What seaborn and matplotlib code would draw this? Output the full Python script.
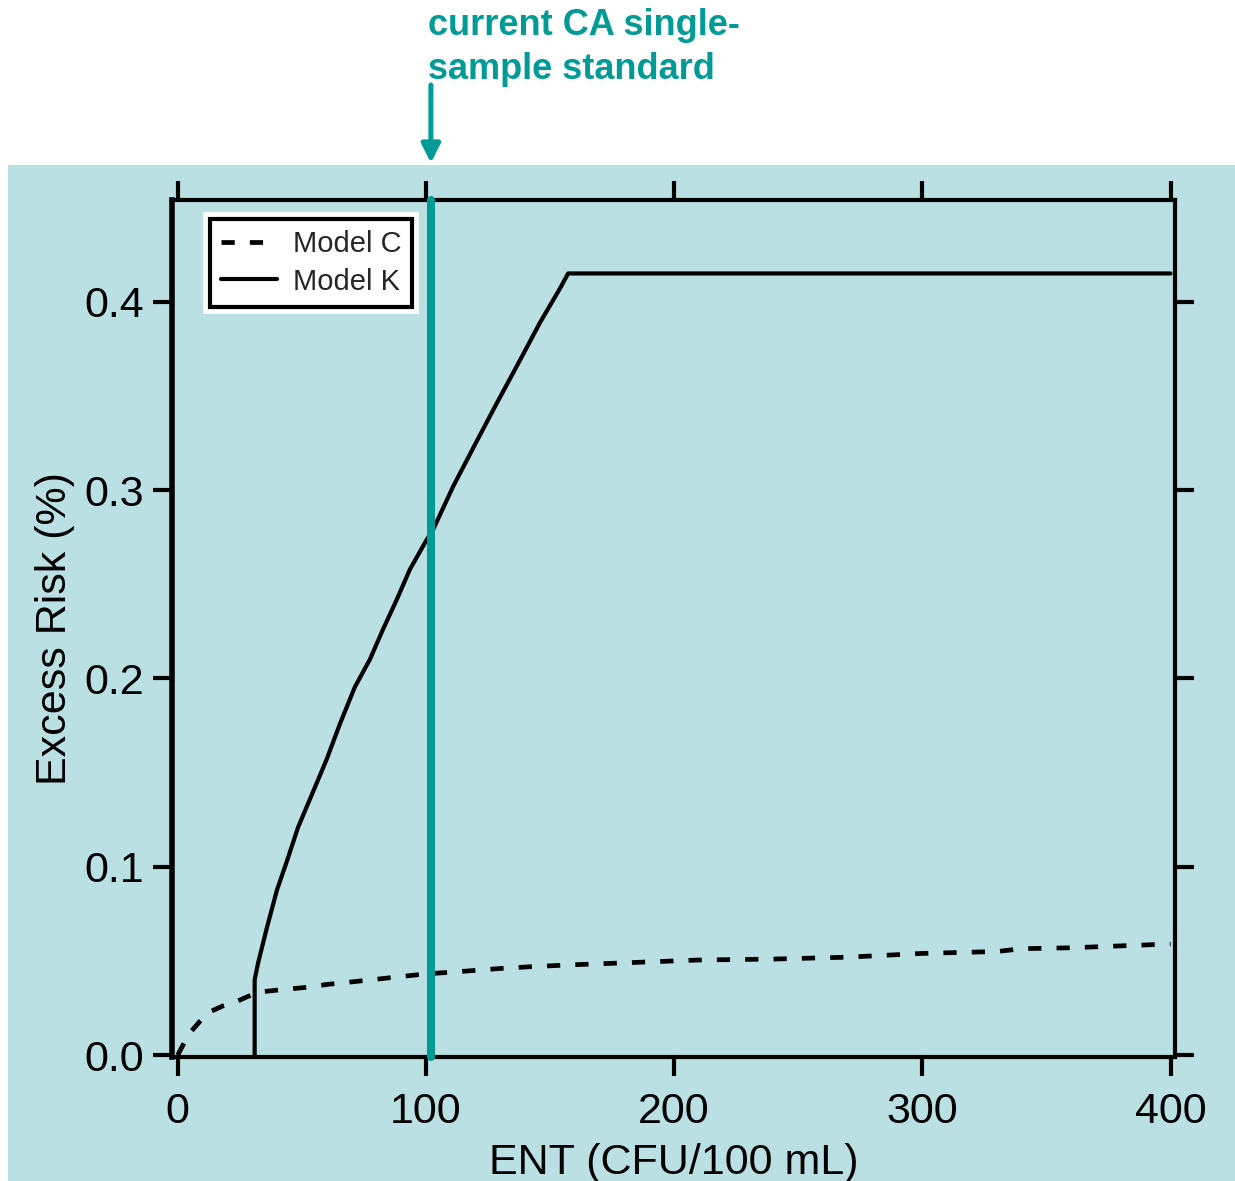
import numpy as np
import pandas as pd
import matplotlib
matplotlib.use('Agg')
import matplotlib.pyplot as plt
import matplotlib.patheffects as pe
from matplotlib.patches import Rectangle
import seaborn as sns

# ── Data ──────────────────────────────────────────────────
model_c_x = [0, 2, 5, 9, 13, 18, 23, 28, 33, 40, 52, 60, 71, 85, 99, 115,
             130, 143, 160, 180, 210, 240, 270, 300, 330, 340, 360, 380, 400]
model_c_y = [0.0, 0.005, 0.012, 0.018, 0.023, 0.026, 0.028, 0.031, 0.0335,
             0.0345, 0.036, 0.0375, 0.039, 0.041, 0.043, 0.0445, 0.046,
             0.047, 0.048, 0.049, 0.0505, 0.051, 0.052, 0.054, 0.055,
             0.0565, 0.057, 0.058, 0.059]

model_k_x = [31, 31, 32.4, 36, 40, 44, 48.5, 53.3, 56.5, 60, 65.4, 71.4,
             77.4, 82.7, 88.3, 93.6, 100.3, 102.9, 111, 120.5, 128.5, 136.7,
             146, 154, 157.3, 400]
model_k_y = [0.0, 0.04, 0.049, 0.068, 0.0877, 0.103, 0.121, 0.136, 0.146,
             0.157, 0.176, 0.1955, 0.21, 0.226, 0.242, 0.258, 0.2736, 0.279,
             0.302, 0.326, 0.346, 0.366, 0.389, 0.407, 0.415, 0.415]

standard_x = 102
x_ticks = [0, 100, 200, 300, 400]
y_ticks = [0.0, 0.1, 0.2, 0.3, 0.4]

panel_color = '#BBE0E3'
teal = '#009B96'

# ── Style ────────────────────────────────────────────────
sns.set_theme(style='ticks')
plt.rcParams['font.family'] = ['Liberation Sans', 'DejaVu Sans']

fig = plt.figure(figsize=(12.35, 11.81), dpi=100)
fig.patch.set_facecolor('white')
fig.patches.append(Rectangle((8 / 1235, 0), 1, (1181 - 165) / 1181,
                             transform=fig.transFigure, facecolor=panel_color,
                             edgecolor='none', zorder=-10))

ax = fig.add_axes([172 / 1235, (1181 - 1057) / 1181, 1003 / 1235, 857 / 1181])
ax.set_facecolor('none')

df_c = pd.DataFrame({'x': model_c_x, 'y': model_c_y})
df_k = pd.DataFrame({'x': model_k_x, 'y': model_k_y})

sns.lineplot(data=df_c, x='x', y='y', ax=ax, color='black', lw=3.4,
             estimator=None, sort=False, label='Model C')
ax.lines[-1].set_dashes((2.8, 3.2))
sns.lineplot(data=df_k, x='x', y='y', ax=ax, color='black', lw=3.0,
             estimator=None, sort=False, label='Model K')

ax.axvline(standard_x, color=teal, lw=5.8, zorder=5, clip_on=False)

ax.set_xlim(-2.3, 401.8)
ax.set_ylim(-0.001, 0.454)
ax.set_xticks(x_ticks)
ax.set_yticks(y_ticks)
ax.set_yticklabels([f'{v:.1f}' for v in y_ticks])

for side in ['top', 'right', 'bottom', 'left']:
    ax.spines[side].set_visible(True)
    ax.spines[side].set_linewidth(3)
    ax.spines[side].set_color('black')
ax.spines['left'].set_linewidth(4)

ax.tick_params(axis='both', which='both', direction='out', length=14,
               width=3, color='black', labelsize=31, labelcolor='black',
               top=True, right=True, labeltop=False, labelright=False)
ax.tick_params(axis='x', pad=11)
ax.tick_params(axis='y', pad=6)

ax.set_xlabel('ENT (CFU/100 mL)', fontsize=31, color='black', labelpad=8)
ax.set_ylabel('Excess Risk (%)', fontsize=31, color='black', labelpad=7)

leg = ax.legend(loc='upper left', bbox_to_anchor=(0.038, 0.978),
                borderaxespad=0, fontsize=21, handlelength=1.9,
                handletextpad=0.55, borderpad=0.38, labelspacing=0.33,
                frameon=True, fancybox=False, framealpha=1)
frame = leg.get_frame()
frame.set_facecolor('white')
frame.set_edgecolor('black')
frame.set_linewidth(3)
frame.set_path_effects([pe.withStroke(linewidth=10, foreground='white')])

# ── Annotation above the plot ────────────────────────────
ax.annotate('', xy=(standard_x, 1018 / 1181), xytext=(standard_x, 1096 / 1181),
            xycoords=('data', 'figure fraction'),
            textcoords=('data', 'figure fraction'),
            arrowprops=dict(arrowstyle='-|>', color=teal, lw=3.6,
                            mutation_scale=28, shrinkA=0, shrinkB=0))
fig.text(428 / 1235, 1 - 8 / 1181, 'current CA single-\nsample standard',
         ha='left', va='top', fontsize=26, fontweight='bold', color=teal,
         linespacing=1.35)

fig.savefig('out.png', dpi=100)
